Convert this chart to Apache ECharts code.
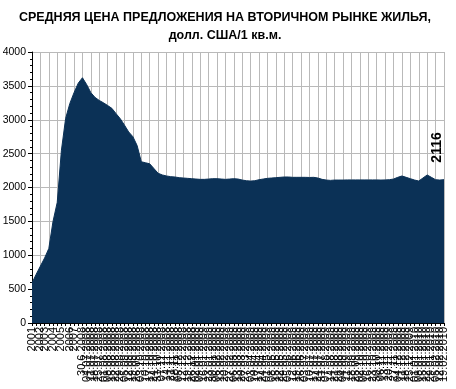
<!DOCTYPE html>
<html>
<head>
<meta charset="utf-8">
<script src="https://cdn.jsdelivr.net/npm/echarts@6/dist/echarts.min.js"></script>
<style>
html,body{margin:0;padding:0;background:#fff;}
#chart{width:456px;height:389px;}
</style>
</head>
<body>
<div id="chart"></div>
<script>
// Category labels: early years, then weekly dates
const yearLabels = ['2001','','2002','2003','','2004','','2005','','2006','2007',''];
const dateLabels = ['30.6.2008',
 '04.07.2008','11.07.2008','18.07.2008','25.07.2008',
 '01.08.2008','08.08.2008','15.08.2008','22.08.2008','29.08.2008',
 '05.09.2008','12.09.2008','19.09.2008','26.09.2008',
 '03.10.2008','10.10.2008','17.10.2008','24.10.2008','31.10.2008',
 '07.11.2008','14.11.2008','21.11.2008','28.11.2008',
 '05.12.2008','12.12.2008','19.12.2008','26.12.2008',
 '02.01.2009','09.01.2009','16.01.2009','23.01.2009','30.01.2009',
 '06.02.2009','13.02.2009','20.02.2009','27.02.2009',
 '06.03.2009','13.03.2009','20.03.2009','27.03.2009',
 '03.04.2009','10.04.2009','17.04.2009','24.04.2009',
 '01.05.2009','08.05.2009','15.05.2009','22.05.2009','29.05.2009',
 '05.06.2009','12.06.2009','19.06.2009','26.06.2009',
 '03.07.2009','10.07.2009','17.07.2009','24.07.2009','31.07.2009',
 '07.08.2009','14.08.2009','21.08.2009','28.08.2009',
 '04.09.2009','11.09.2009','18.09.2009','25.09.2009',
 '02.10.2009','09.10.2009','16.10.2009','23.10.2009','30.10.2009',
 '06.11.2009','13.11.2009','20.11.2009','27.11.2009',
 '04.12.2009','11.12.2009','18.12.2009','25.12.2009',
 '01.01.2010','08.01.2010','15.01.2010','22.01.2010','29.01.2010',
 '05.02.2010','12.02.2010','19.02.2010'];

// Average asking price, USD per sq.m.
const yearValues = [590, 720, 840, 960, 1100, 1500, 1780, 2550, 3020, 3240, 3400, 3540];
const dateValues = [3620,
 3520, 3400, 3330, 3285, 3250, 3210, 3168, 3090, 3015, 2920, 2820, 2750, 2620,
 2380, 2365, 2350, 2280, 2210, 2185, 2170, 2160, 2155, 2145, 2140, 2135, 2130,
 2125, 2120, 2120, 2125, 2130, 2130, 2125, 2120, 2125, 2130, 2125, 2110, 2100,
 2095, 2100, 2115, 2125, 2135, 2140, 2145, 2150, 2155, 2155, 2150, 2150, 2150,
 2150, 2148, 2150, 2140, 2120, 2110, 2105, 2110, 2110, 2110, 2112, 2112, 2112,
 2112, 2112, 2112, 2112, 2112, 2110, 2112, 2115, 2125, 2150, 2170, 2150, 2130,
 2110, 2096, 2140, 2185, 2150, 2115, 2110, 2116];

const titleText = 'СРЕДНЯЯ ЦЕНА ПРЕДЛОЖЕНИЯ НА ВТОРИЧНОМ РЫНКЕ ЖИЛЬЯ,\nдолл. США/1 кв.м.';
const yTicks = {min: 0, max: 4000, step: 500};

const categories = yearLabels.concat(dateLabels);
const values = yearValues.concat(dateValues);
const lastIdx = values.length - 1;
const FONT = "'Liberation Sans', Arial, sans-serif";

const chart = echarts.init(document.getElementById('chart'), null, {renderer: 'canvas'});
chart.setOption({
  animation: false,
  backgroundColor: '#ffffff',
  title: {
    text: titleText,
    left: 220,
    top: 4,
    textAlign: 'center',
    textStyle: {fontSize: 12.5, fontWeight: 'bold', color: '#000', fontFamily: FONT, lineHeight: 18}
  },
  grid: {left: 32, right: 12, top: 52, bottom: 66, outerBoundsMode: 'none', containLabel: false},
  xAxis: {
    type: 'category',
    data: categories,
    boundaryGap: false,
    axisLine: {show: true, lineStyle: {color: '#000', width: 1}},
    axisTick: {show: true, interval: 0, length: 3, lineStyle: {color: '#000'}},
    axisLabel: {interval: 0, rotate: 90, fontSize: 11, margin: 4, color: '#000', fontFamily: FONT},
    splitLine: {show: true, interval: 1, lineStyle: {color: '#b9b9b9', width: 1}}
  },
  yAxis: {
    type: 'value',
    min: yTicks.min, max: yTicks.max, interval: yTicks.step,
    axisLine: {show: true, lineStyle: {color: '#000', width: 1}},
    axisTick: {show: true, length: 4, lineStyle: {color: '#000'}},
    minorTick: {show: true, splitNumber: 5, length: 2, lineStyle: {color: '#000'}},
    axisLabel: {fontSize: 10.5, margin: 6, color: '#000', fontFamily: FONT, formatter: v => String(v)},
    splitLine: {show: true, lineStyle: {color: '#b9b9b9', width: 1}}
  },
  series: [{
    type: 'line',
    data: values,
    symbol: 'none',
    smooth: false,
    lineStyle: {color: '#0b3156', width: 1},
    areaStyle: {color: '#0b3156', opacity: 1},
    z: 3,
    markPoint: {
      symbol: 'circle',
      symbolSize: 0,
      silent: true,
      data: [{coord: [lastIdx, values[lastIdx]], value: values[lastIdx]}],
      label: {
        show: true, formatter: '{c}', position: 'top', rotate: 90, distance: 17,
        align: 'left', verticalAlign: 'middle', offset: [0, -7],
        fontSize: 14, fontWeight: 'bold', color: '#000', fontFamily: FONT
      }
    }
  }]
});
</script>
</body>
</html>
